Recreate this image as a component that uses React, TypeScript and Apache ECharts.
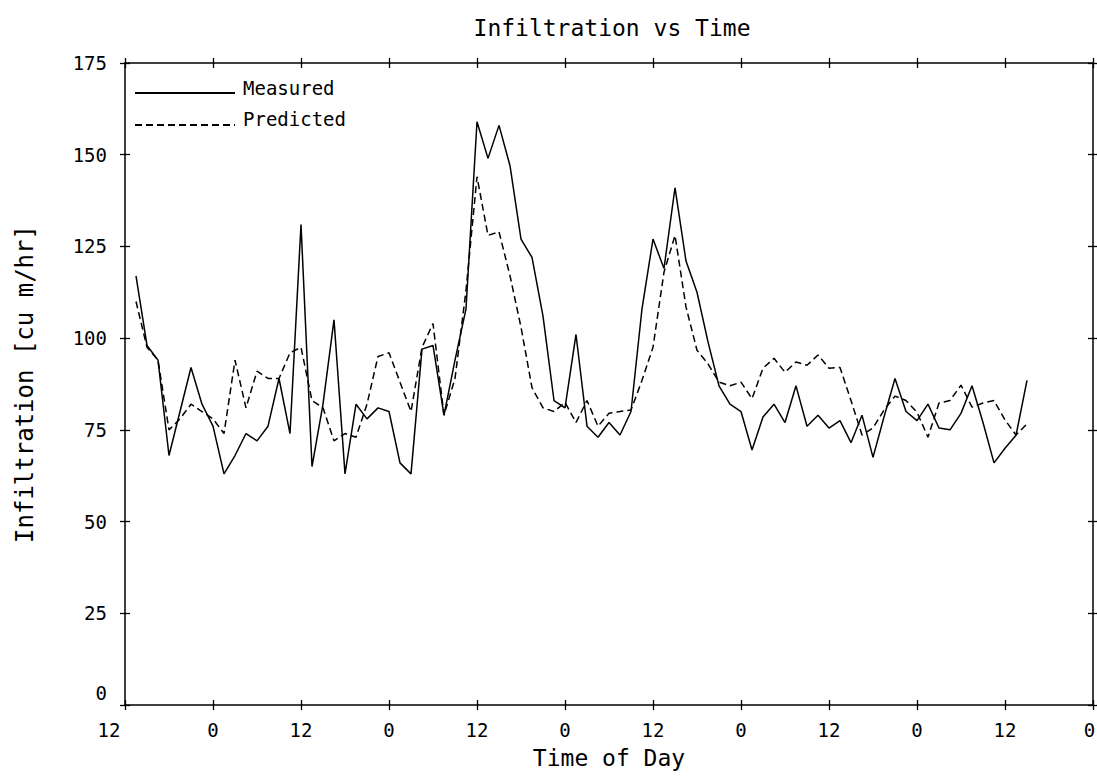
import React, { useEffect, useRef } from "react";
import * as echarts from "echarts";

// Time in hours since the first "12" (noon) on the axis
const hours = [
  1.5, 3, 4.5, 6, 7.5, 9, 10.5, 12, 13.5, 15, 16.5, 18, 19.5, 21, 22.5, 24,
  25.5, 27, 28.5, 30, 31.5, 33, 34.5, 36, 37.5, 39, 40.5, 42, 43.5, 45, 46.5, 48,
  49.5, 51, 52.5, 54, 55.5, 57, 58.5, 60, 61.5, 63, 64.5, 66, 67.5, 69, 70.5, 72,
  73.5, 75, 76.5, 78, 79.5, 81, 82.5, 84, 85.5, 87, 88.5, 90, 91.5, 93, 94.5, 96,
  97.5, 99, 100.5, 102, 103.5, 105, 106.5, 108, 109.5, 111, 112.5, 114, 115.5, 117,
  118.5, 120, 121.5, 123,
];

const measured = [
  117, 98, 94, 68, 80, 92, 82, 76, 63, 68, 74, 72, 76, 89, 74, 131,
  65, 82, 105, 63, 82, 78, 81, 80, 66, 63, 97, 98, 79, 94, 108, 159,
  149, 158, 147, 127, 122, 106, 83, 81, 101, 76, 73, 77, 73.6, 80, 108, 127,
  119, 141, 121, 112.5, 99, 87, 82, 80, 69.5, 78.5, 82, 77, 87, 76, 79, 75.5,
  77.5, 71.5, 79, 67.5, 78.5, 89, 80, 77.5, 82, 75.5, 75, 79.5, 87, 77,
  66, 70, 73.5, 88.5,
];

const predicted = [
  110, 97.5, 94, 75, 78, 82, 80, 78, 74, 94, 81, 91, 89, 89, 96, 97.5,
  83, 81, 72, 74, 73, 82, 95, 96, 88, 80, 97.5, 104, 79, 89, 113, 144,
  128, 129, 117, 103, 86.5, 81, 80, 82.5, 77, 83, 76, 79.5, 80, 80.4, 88.5, 97.5,
  118, 128, 108.5, 96.7, 93, 88, 87, 88, 83.5, 91.8, 94.5, 90.7, 93.5, 92.6, 95.4, 91.8,
  92, 83, 73.6, 75.5, 80.4, 84.2, 83, 79.8, 73, 82.3, 83, 87.2, 81.2, 82.3,
  83, 77.7, 73.6, 76.6,
];

const xTickLabels = ["12", "0", "12", "0", "12", "0", "12", "0", "12", "0", "12", "0"];

const FONT = "'DejaVu Sans Mono', monospace";

export default function App() {
  const ref = useRef<HTMLDivElement>(null);

  useEffect(() => {
    const chart = echarts.init(ref.current!, null, { renderer: "svg" });

    const axisLine = { show: true, onZero: false, lineStyle: { color: "#000", width: 1.5 } };
    const noLine = { show: false, onZero: false };
    const noTick = { show: false };
    // cross-shaped ticks: axis shifted 5px inward, ticks 10px outward
    const crossTick = { show: true, inside: false, length: 10, lineStyle: { color: "#000", width: 1.3 } };
    const noLabel = { show: false };
    const xBase = { type: "value", min: 0, max: 132, interval: 12, splitLine: { show: false } };
    const yBase = { type: "value", min: 0, max: 175, interval: 25, splitLine: { show: false } };
    const box = () => ({
      left: 125,
      right: 4,
      top: 63,
      bottom: 73,
      containLabel: false,
      outerBoundsMode: "none",
    });

    const labelText = { fontFamily: FONT, fontSize: 19, color: "#000" };
    const lastX = xTickLabels.length - 1;

    const option: any = {
      animation: false,
      backgroundColor: "#fff",
      title: {
        text: "Infiltration vs Time",
        left: 607,
        top: 11,
        textAlign: "center",
        textStyle: { fontFamily: FONT, fontSize: 23, fontWeight: "normal", color: "#000" },
      },
      grid: [box(), box()],
      xAxis: [
        {
          ...xBase,
          gridIndex: 0,
          position: "bottom",
          axisLine,
          axisTick: noTick,
          axisLabel: {
            show: true,
            margin: 15,
            ...labelText,
            formatter: (v: number) => {
              const k = Math.round(v / 12);
              if (k === 0) return "{first|" + xTickLabels[0] + "}";
              if (k === lastX) return "{last|" + xTickLabels[lastX] + "}";
              return xTickLabels[k];
            },
            rich: {
              first: { ...labelText, padding: [0, 32, 0, 0] },
              last: { ...labelText, padding: [0, 7, 0, 0] },
            },
          },
          name: "Time of Day",
          nameLocation: "middle",
          nameGap: 41,
          nameTextStyle: { fontFamily: FONT, fontSize: 23, color: "#000" },
        },
        { ...xBase, gridIndex: 0, position: "top", axisLine, axisTick: noTick, axisLabel: noLabel },
        { ...xBase, gridIndex: 1, position: "bottom", offset: -5, axisLine: noLine, axisTick: crossTick, axisLabel: noLabel },
        { ...xBase, gridIndex: 1, position: "top", offset: -5, axisLine: noLine, axisTick: crossTick, axisLabel: noLabel },
      ],
      yAxis: [
        {
          ...yBase,
          gridIndex: 0,
          position: "left",
          axisLine,
          axisTick: noTick,
          axisLabel: {
            show: true,
            margin: 18,
            ...labelText,
            formatter: (v: number) => (v === 0 ? "{low|0}" : String(v)),
            rich: { low: { ...labelText, padding: [0, 0, 25, 0] } },
          },
          name: "Infiltration [cu m/hr]",
          nameLocation: "middle",
          nameGap: 88,
          nameRotate: 90,
          nameTextStyle: { fontFamily: FONT, fontSize: 24, color: "#000" },
        },
        { ...yBase, gridIndex: 0, position: "right", axisLine, axisTick: noTick, axisLabel: noLabel },
        { ...yBase, gridIndex: 1, position: "left", offset: -5, axisLine: noLine, axisTick: crossTick, axisLabel: noLabel },
        { ...yBase, gridIndex: 1, position: "right", offset: -5, axisLine: noLine, axisTick: crossTick, axisLabel: noLabel },
      ],
      graphic: [
        { type: "line", shape: { x1: 135, y1: 93, x2: 235, y2: 93 }, style: { stroke: "#000", lineWidth: 2 } },
        {
          type: "text",
          x: 243,
          y: 88,
          style: { text: "Measured", font: `19px ${FONT}`, fill: "#000", textVerticalAlign: "middle", verticalAlign: "middle" },
        },
        {
          type: "line",
          shape: { x1: 135, y1: 125, x2: 235, y2: 125 },
          style: { stroke: "#000", lineWidth: 1.8, lineDash: [7, 4] },
        },
        {
          type: "text",
          x: 243,
          y: 119,
          style: { text: "Predicted", font: `19px ${FONT}`, fill: "#000", textVerticalAlign: "middle", verticalAlign: "middle" },
        },
      ],
      series: [
        {
          name: "Measured",
          type: "line",
          xAxisIndex: 0,
          yAxisIndex: 0,
          data: hours.map((h, i) => [h, measured[i]]),
          showSymbol: false,
          lineStyle: { color: "#000", width: 1.5, type: "solid" },
        },
        {
          name: "Predicted",
          type: "line",
          xAxisIndex: 0,
          yAxisIndex: 0,
          data: hours.map((h, i) => [h, predicted[i]]),
          showSymbol: false,
          lineStyle: { color: "#000", width: 1.5, type: [7, 4] },
        },
      ],
    };

    chart.setOption(option);
    return () => chart.dispose();
  }, []);

  return (
    <div
      ref={ref}
      style={{ position: "absolute", left: 0, top: 0, width: 1097, height: 778, background: "#fff" }}
    />
  );
}
